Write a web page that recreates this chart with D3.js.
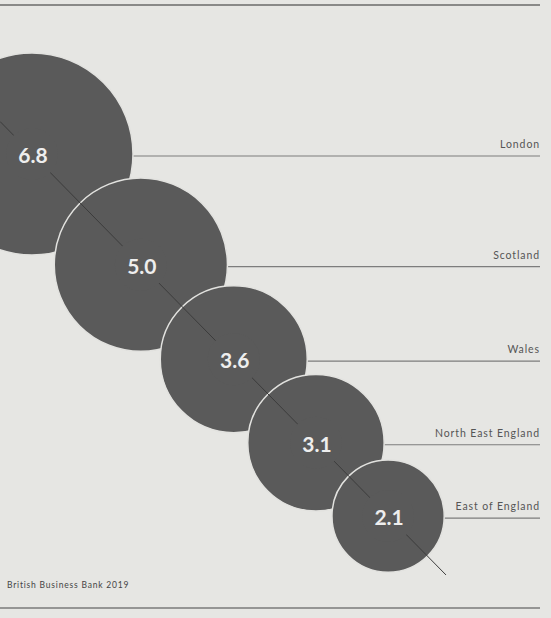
<!DOCTYPE html>
<meta charset="utf-8">
<script src="https://d3js.org/d3.v7.min.js"></script>
<style>
  body { margin: 0; background: #e6e6e3; }
  svg { display: block; }
</style>
<div id="chart"></div>
<script>
  // data
  var regions = ["London", "Scotland", "Wales", "North East England", "East of England"];
  var values = [6.8, 5.0, 3.6, 3.1, 2.1];
  var valueLabels = ["6.8", "5.0", "3.6", "3.1", "2.1"];
  var source = "British Business Bank 2019";

  var width = 551, height = 618;
  var bubbleFill = "#5a5a5a";

  var svg = d3.select("#chart")
    .append("svg")
      .attr("width", width)
      .attr("height", height);

  // circle area proportional to value
  var r = d3.scaleSqrt().domain([0, 6.8]).range([0, 101]);

  // circles overlap along a diagonal: each step is a share of the two radii
  var overlap = 0.59;
  var cy = [154];
  for (var i = 1; i < values.length; i++) {
    cy.push(cy[i - 1] + overlap * (r(values[i - 1]) + r(values[i])));
  }
  var x = d3.scaleLinear().domain([154, 516]).range([32, 388]);

  var data = regions.map(function(d, i) {
    return { region: d, value: values[i], label: valueLabels[i], cx: x(cy[i]), cy: cy[i] };
  });

  var right = 540;

  // top and bottom rules
  svg.append("line")
    .attr("x1", 0).attr("x2", right)
    .attr("y1", 5).attr("y2", 5)
    .attr("stroke", "#6a6a6a").attr("stroke-width", 1.5);
  svg.append("line")
    .attr("x1", 0).attr("x2", right)
    .attr("y1", 608).attr("y2", 608)
    .attr("stroke", "#7a7a7a").attr("stroke-width", 1.5);

  // leader lines to region labels
  svg.selectAll(".leader")
    .data(data)
    .enter()
    .append("line")
      .attr("class", "leader")
      .attr("x1", function(d) { return d.cx; })
      .attr("x2", right)
      .attr("y1", function(d) { return d.cy + 2; })
      .attr("y2", function(d) { return d.cy + 2; })
      .attr("stroke", "#7d7d7d")
      .attr("stroke-width", 1.2);

  svg.selectAll(".region")
    .data(data)
    .enter()
    .append("text")
      .attr("class", "region")
      .attr("x", right)
      .attr("y", function(d) { return d.cy - 6; })
      .attr("text-anchor", "end")
      .style("font-family", "Lato, sans-serif")
      .style("font-size", "10.5px")
      .style("letter-spacing", "0.9px")
      .style("fill", "#555")
      .text(function(d) { return d.region; });

  // bubbles
  svg.selectAll(".bubble")
    .data(data)
    .enter()
    .append("circle")
      .attr("class", "bubble")
      .attr("cx", function(d) { return d.cx; })
      .attr("cy", function(d) { return d.cy; })
      .attr("r", function(d) { return r(d.value); })
      .attr("fill", bubbleFill)
      .attr("stroke", "#e2e2df")
      .attr("stroke-width", 1.5);

  // diagonal through centres
  var first = data[0], last = data[data.length - 1];
  var slope = (last.cy - first.cy) / (last.cx - first.cx);
  svg.append("line")
    .attr("x1", 0)
    .attr("y1", first.cy - first.cx * slope)
    .attr("x2", 446)
    .attr("y2", last.cy + (446 - last.cx) * slope)
    .attr("stroke", "#3c3c3c")
    .attr("stroke-width", 1);

  // line is broken around each value
  svg.selectAll(".gap")
    .data(data)
    .enter()
    .append("circle")
      .attr("class", "gap")
      .attr("cx", function(d) { return d.cx; })
      .attr("cy", function(d) { return d.cy; })
      .attr("r", 26)
      .attr("fill", bubbleFill);

  // values
  svg.selectAll(".value")
    .data(data)
    .enter()
    .append("text")
      .attr("class", "value")
      .attr("x", function(d) { return d.cx + 1; })
      .attr("y", function(d) { return d.cy + 9; })
      .attr("text-anchor", "middle")
      .style("font-family", "Lato, sans-serif")
      .style("font-size", "21px")
      .style("font-weight", "bold")
      .style("fill", "#eeeeee")
      .text(function(d) { return d.label; });

  // source
  svg.append("text")
    .attr("x", 7)
    .attr("y", 588)
    .style("font-family", "Lato, sans-serif")
    .style("font-size", "8.5px")
    .style("letter-spacing", "0.8px")
    .style("fill", "#444")
    .text(source);
</script>
